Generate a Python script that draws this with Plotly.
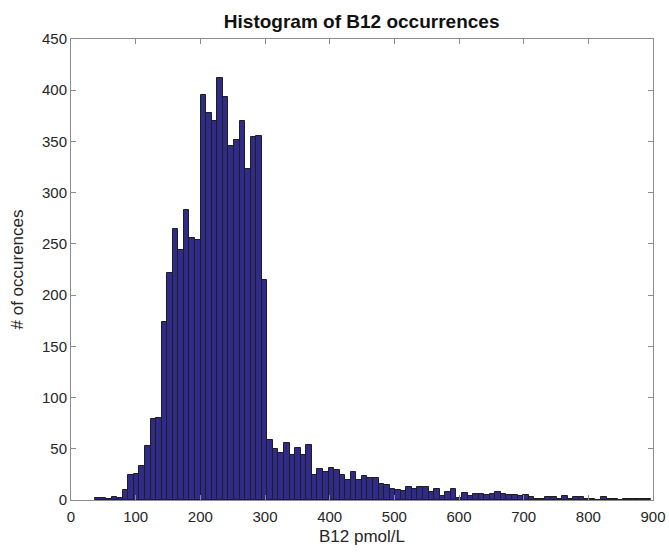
import plotly.graph_objects as go

# Histogram of serum B12 values: 100 equal-width bins
BIN_START = 37.0      # pmol/L, left edge of the first bin
BIN_WIDTH = 8.6       # pmol/L
counts = [
    2, 2, 1, 3, 2, 10, 24, 25, 33, 53,
    79, 80, 174, 222, 265, 244, 283, 256, 254, 395,
    378, 370, 412, 393, 346, 351, 370, 323, 354, 355,
    215, 59, 50, 46, 56, 44, 51, 44, 54, 24,
    30, 27, 31, 29, 24, 20, 27, 20, 23, 21,
    21, 16, 15, 11, 10, 9, 13, 11, 13, 13,
    8, 11, 4, 8, 11, 2, 7, 4, 6, 6,
    5, 6, 8, 6, 5, 5, 4, 5, 3, 1,
    1, 3, 3, 1, 4, 1, 3, 3, 1, 1,
    0, 3, 1, 1, 0, 1, 1, 1, 1, 1,
]
bin_centers = [BIN_START + BIN_WIDTH * (i + 0.5) for i in range(len(counts))]

x_ticks = [0, 100, 200, 300, 400, 500, 600, 700, 800, 900]
y_ticks = [0, 50, 100, 150, 200, 250, 300, 350, 400, 450]

FONT = "Liberation Sans, Arial, Helvetica, sans-serif"
TEXT = "#262626"
AXIS = "#8c8c8c"

fig = go.Figure(
    go.Bar(
        x=bin_centers,
        y=counts,
        width=BIN_WIDTH,
        marker=dict(color="#302a88", line=dict(color="#1e1e1e", width=1)),
        hoverinfo="x+y",
    )
)

axis_common = dict(
    showline=True,
    linecolor=AXIS,
    linewidth=1,
    mirror="allticks",
    ticks="inside",
    ticklen=5,
    tickcolor=AXIS,
    showgrid=False,
    zeroline=False,
    automargin=False,
    tickfont=dict(family=FONT, size=15, color=TEXT),
)

fig.update_layout(
    width=669,
    height=554,
    margin=dict(l=71, r=16, t=39, b=54),
    paper_bgcolor="white",
    plot_bgcolor="white",
    bargap=0,
    showlegend=False,
    font=dict(family=FONT, color=TEXT),
    title=dict(
        text="<b>Histogram of B12 occurrences</b>",
        x=0.5406,
        xanchor="center",
        y=0.962,
        yanchor="middle",
        font=dict(family=FONT, size=19, color="#111111"),
    ),
    xaxis=dict(
        range=[0, 900],
        tickvals=x_ticks,
        ticklabelstandoff=3,
        title=dict(text="B12 pmol/L", font=dict(family=FONT, size=17, color=TEXT), standoff=6),
        **axis_common,
    ),
    yaxis=dict(
        range=[0, 450],
        tickvals=y_ticks,
        title=dict(text="# of occurences", font=dict(family=FONT, size=17, color=TEXT), standoff=14),
        **axis_common,
    ),
)

fig.write_html("out.html")
